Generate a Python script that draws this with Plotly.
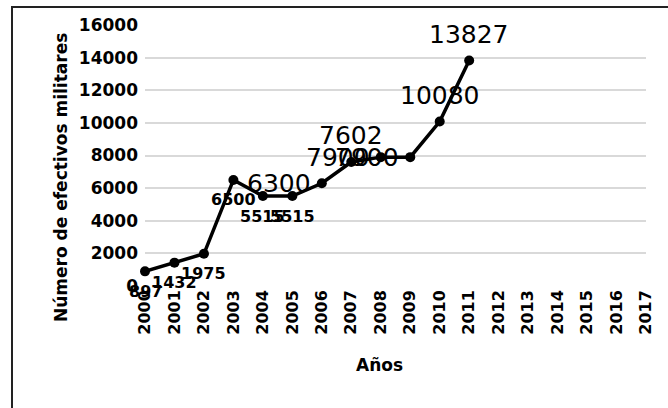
import plotly.graph_objects as go

years = list(range(2000, 2012))
values = [897, 1432, 1975, 6500, 5515, 5515, 6300, 7602, 7900, 7900, 10080, 13827]
tick_years = list(range(2000, 2018))
y_ticks = list(range(0, 16001, 2000))

small = {2000, 2001, 2002, 2003, 2004, 2005}
left = {2006, 2008, 2009}

fig = go.Figure()
fig.add_trace(go.Scatter(
    x=years, y=values, mode="lines+markers",
    line=dict(color="black", width=3.5),
    marker=dict(color="black", size=10),
    cliponaxis=False, showlegend=False,
))

annotations = []
for yr, v in zip(years, values):
    if yr in small:
        annotations.append(dict(x=yr, y=v, xref="x", yref="y", text=f"<b>{v}</b>", showarrow=False,
                                xanchor="center", yanchor="middle", yshift=-20,
                                font=dict(size=16, color="black")))
    elif yr in left:
        annotations.append(dict(x=yr, y=v, xref="x", yref="y", text=str(v), showarrow=False,
                                xanchor="right", yanchor="middle", xshift=-9, yshift=0,
                                font=dict(size=25, color="black")))
    else:
        annotations.append(dict(x=yr, y=v, xref="x", yref="y", text=str(v), showarrow=False,
                                xanchor="center", yanchor="middle", yshift=26,
                                font=dict(size=25, color="black")))

annotations += [
    dict(text="<b>Años</b>", x=(379 - 145) / 501, y=(286 - 365) / 261, xref="paper", yref="paper",
         showarrow=False, font=dict(size=17), xanchor="center", yanchor="middle"),
    dict(text="<b>Número de efectivos militares</b>", x=(61 - 145) / 501, y=(286 - 178) / 261,
         xref="paper", yref="paper", showarrow=False, textangle=-90, font=dict(size=17),
         xanchor="center", yanchor="middle"),
]

fig.update_layout(
    width=668, height=408,
    margin=dict(l=145, r=22, t=25, b=122),
    paper_bgcolor="white", plot_bgcolor="white",
    font=dict(family="DejaVu Sans", color="black"),
    xaxis=dict(range=[2000, 2017], tickvals=tick_years, ticktext=[str(t) for t in tick_years],
               tickangle=-90, tickfont=dict(size=16, family="DejaVu Sans", weight="bold"),
               showgrid=False, zeroline=False, showline=False, ticks=""),
    yaxis=dict(range=[0, 16000], tickvals=y_ticks, ticktext=[str(t) for t in y_ticks],
               tickfont=dict(size=17, family="DejaVu Sans", weight="bold"), ticklabelstandoff=6,
               showgrid=True, gridcolor="#d9d9d9", gridwidth=2, zeroline=False, showline=False, ticks=""),
    annotations=annotations,
    shapes=[dict(type="rect", xref="paper", yref="paper",
                 x0=(12 - 145) / 501, x1=(672 - 145) / 501, y0=(286 - 412) / 261, y1=(286 - 7) / 261,
                 line=dict(color="#222222", width=2))],
)

fig.write_html("out.html", config={"displayModeBar": False},
               post_script="document.body.style.margin='0';document.body.style.overflow='hidden';")
